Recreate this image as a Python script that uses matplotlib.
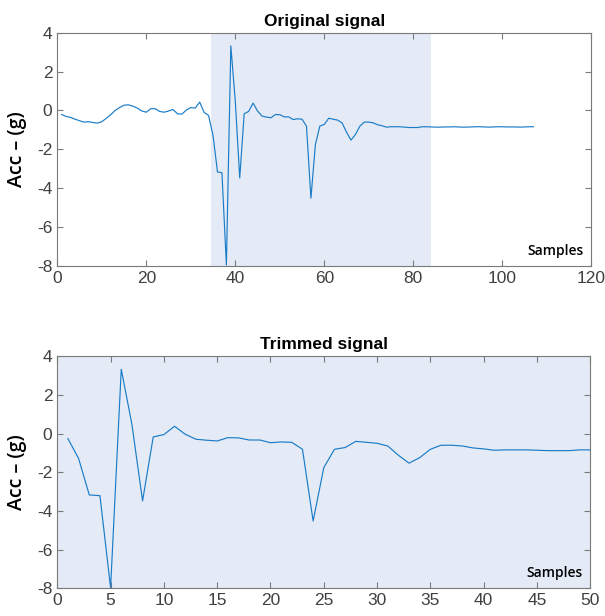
import numpy as np
import matplotlib.pyplot as plt

plt.rcParams['axes.unicode_minus'] = False

# samples 1..33 before the trimmed window
pre_trim = [-0.21, -0.31, -0.36, -0.45, -0.53, -0.60, -0.58, -0.62, -0.65, -0.58,
            -0.41, -0.22, 0.00, 0.15, 0.27, 0.29, 0.22, 0.12, -0.03, -0.09,
            0.09, 0.09, -0.05, -0.09, -0.03, 0.05, -0.17, -0.19, 0.02, 0.15,
            0.12, 0.43, -0.10]

# trimmed signal (samples 34..83 of the original)
trimmed = [-0.26, -1.29, -3.17, -3.21, -7.97, 3.33, 0.48, -3.48, -0.17, -0.05,
           0.38, -0.03, -0.29, -0.34, -0.38, -0.21, -0.22, -0.33, -0.33, -0.47,
           -0.43, -0.45, -0.81, -4.52, -1.76, -0.81, -0.72, -0.40, -0.45, -0.50,
           -0.64, -1.12, -1.53, -1.24, -0.81, -0.60, -0.60, -0.64, -0.74, -0.79,
           -0.86, -0.84, -0.84, -0.84, -0.86, -0.88, -0.88, -0.88, -0.84, -0.84]

# tail after the window, samples 84..107
post_trim = [-0.85, -0.86, -0.86, -0.85, -0.85, -0.84, -0.85, -0.86, -0.86, -0.85,
             -0.84, -0.84, -0.85, -0.86, -0.85, -0.84, -0.84, -0.85, -0.85, -0.85,
             -0.86, -0.85, -0.84, -0.84]

trim_start = 34.5
trim_end = 84

original = pre_trim + trimmed + post_trim
x_orig = np.arange(1, len(original) + 1)
x_trim = np.arange(1, len(trimmed) + 1)

line_color = '#1a7cc8'
shade = '#E4EBF6'
axis_gray = '#7a7a7a'
tick_gray = '#404040'

fig = plt.figure(figsize=(6.05, 6.16), dpi=100)
ax1 = fig.add_axes([0.0947, 0.5687, 0.8826, 0.378])
ax2 = fig.add_axes([0.0947, 0.045, 0.8810, 0.3766])


def style(ax):
    for s in ax.spines.values():
        s.set_color(axis_gray)
        s.set_linewidth(0.8)
    ax.tick_params(direction='in', top=True, right=True, length=4,
                   color=axis_gray, labelcolor=tick_gray, labelsize=12.5, width=0.8)
    for lab in ax.get_xticklabels() + ax.get_yticklabels():
        lab.set_family('Liberation Sans')
    ax.set_ylim(-8, 4)
    ax.set_ylabel('Acc – (g)', fontsize=14, family='Open Sans', fontweight='semibold',
                  labelpad=7)


# top panel
ax1.axvspan(trim_start, trim_end, color=shade, lw=0, zorder=0)
ax1.plot(x_orig, original, color=line_color, lw=0.85)
ax1.set_xlim(0, 120)
ax1.set_xticks([0, 20, 40, 60, 80, 100, 120])
ax1.set_yticks([-8, -6, -4, -2, 0, 2, 4])
style(ax1)
ax1.set_title('Original signal', fontsize=12.5, fontweight='bold',
              family='Liberation Sans', pad=5)
ax1.text(0.985, 0.035, 'Samples', transform=ax1.transAxes, ha='right', va='bottom',
         fontsize=10, family='Open Sans', fontweight='semibold')

# bottom panel
ax2.set_facecolor(shade)
ax2.plot(x_trim, trimmed, color=line_color, lw=0.85)
ax2.set_xlim(0, 50)
ax2.set_xticks(np.arange(0, 51, 5))
ax2.set_yticks([-8, -6, -4, -2, 0, 2, 4])
style(ax2)
ax2.set_title('Trimmed signal', fontsize=12.5, fontweight='bold',
              family='Liberation Sans', pad=5)
ax2.text(0.985, 0.035, 'Samples', transform=ax2.transAxes, ha='right', va='bottom',
         fontsize=10, family='Open Sans', fontweight='semibold')

fig.savefig('out.png', dpi=100)
